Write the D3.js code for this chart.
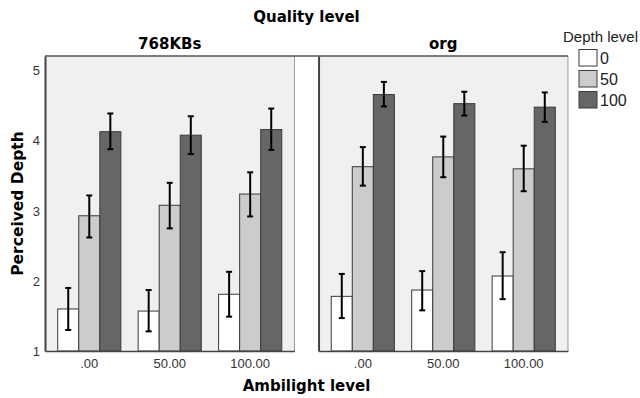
<!DOCTYPE html>
<html>
<head>
<meta charset="utf-8">
<script src="https://cdn.jsdelivr.net/npm/d3@7"></script>
<style>
  body { margin: 0; background: #fff; }
  svg { display: block; }
</style>
</head>
<body>
<div id="chart"></div>
<script>
const w = 640
const h = 398

// Panels, groups and subgroups
const quality = ["768KBs", "org"]
const ambilight = [".00", "50.00", "100.00"]
const depthLevels = ["0", "50", "100"]
const depthColors = ["#ffffff", "#cccccc", "#666666"]
const yTicks = [1, 2, 3, 4, 5]

// Mean perceived depth, one row per ambilight level, one column per depth level
const means768 = [[1.60, 2.93, 4.13], [1.57, 3.08, 4.08], [1.81, 3.24, 4.16]]
const lower768 = [[1.30, 2.62, 3.88], [1.28, 2.75, 3.81], [1.49, 2.92, 3.87]]
const upper768 = [[1.90, 3.22, 4.39], [1.87, 3.40, 4.35], [2.13, 3.55, 4.46]]

const meansOrg = [[1.78, 3.63, 4.66], [1.87, 3.77, 4.53], [2.07, 3.60, 4.48]]
const lowerOrg = [[1.47, 3.36, 4.49], [1.58, 3.48, 4.36], [1.74, 3.28, 4.27]]
const upperOrg = [[2.10, 3.91, 4.84], [2.14, 4.06, 4.70], [2.41, 3.93, 4.69]]

const panelData = [
  { name: quality[0], means: means768, lower: lower768, upper: upper768 },
  { name: quality[1], means: meansOrg, lower: lowerOrg, upper: upperOrg }
]

const sansFont = "'Liberation Sans', Arial, sans-serif"
const titleFont = "'DejaVu Sans', Verdana, sans-serif"

const svg = d3.select("#chart")
              .append("svg")
                .attr("width", w)
                .attr("height", h)

// Scales
const xPanel = d3.scaleBand()
                  .domain(quality)
                  .range([45, 568])
                  .paddingInner(0.088)

const x0 = d3.scaleBand()
              .domain(ambilight)
              .range([0, xPanel.bandwidth()])
              .paddingInner(0.215)
              .paddingOuter(0.158)

const x1 = d3.scaleBand()
              .domain(depthLevels)
              .range([0, x0.bandwidth()])

const y = d3.scaleLinear()
            .domain([1, 5.21])
            .range([351, 56])

const color = d3.scaleOrdinal().domain(depthLevels).range(depthColors)

// --- Panels ---
panelData.forEach((p, pi) => {
  const px = xPanel(p.name)
  const bw = xPanel.bandwidth()
  const g = svg.append("g").attr("transform", `translate(${px},0)`)

  g.append("rect")
    .attr("x", 0).attr("y", y.range()[1])
    .attr("width", bw).attr("height", y.range()[0] - y.range()[1])
    .attr("fill", "#f0f0f0")

  // right border
  g.append("line")
    .attr("x1", bw).attr("x2", bw)
    .attr("y1", y.range()[1]).attr("y2", y.range()[0])
    .attr("stroke", "#9a9a9a").attr("stroke-width", 1)

  // bars + error bars
  ambilight.forEach((a, ai) => {
    const gg = g.append("g").attr("transform", `translate(${x0(a)},0)`)
    depthLevels.forEach((d, di) => {
      const v = p.means[ai][di]
      gg.append("rect")
        .attr("x", x1(d))
        .attr("y", y(v))
        .attr("width", x1.bandwidth())
        .attr("height", y(1) - y(v))
        .attr("fill", color(d))
        .attr("stroke", "#3a3a3a")
        .attr("stroke-width", 1)

      const cx = x1(d) + x1.bandwidth() / 2
      const lo = y(p.lower[ai][di]), hi = y(p.upper[ai][di])
      gg.append("line")
        .attr("x1", cx).attr("x2", cx).attr("y1", lo).attr("y2", hi)
        .attr("stroke", "#000").attr("stroke-width", 2)
      ;[lo, hi].forEach(yy => {
        gg.append("line")
          .attr("x1", cx - 3).attr("x2", cx + 3).attr("y1", yy).attr("y2", yy)
          .attr("stroke", "#000").attr("stroke-width", 2)
      })
    })
  })

  // left axis
  const yAxis = d3.axisLeft(y).tickValues(yTicks).tickSize(0).tickPadding(5).tickFormat(d3.format("d"))
  const ya = g.append("g").call(yAxis)
  ya.select(".domain").attr("stroke", "#444").attr("stroke-width", 2)
  if (pi > 0) ya.selectAll(".tick").remove()

  // bottom axis
  const xAxis = d3.axisBottom(x0).tickSize(0).tickPadding(8)
  const xa = g.append("g").attr("transform", `translate(0,${y(1)})`).call(xAxis)
  xa.select(".domain").attr("stroke", "#444").attr("stroke-width", 1.5)

  ;[ya, xa].forEach(ax => ax.attr("font-family", sansFont).attr("font-size", 13)
    .selectAll(".tick text").attr("fill", "#333"))

  // panel title
  svg.append("text")
    .attr("x", px + bw / 2).attr("y", 49)
    .attr("text-anchor", "middle")
    .style("font-family", titleFont)
    .style("font-weight", "bold").style("font-size", "15px")
    .text(p.name)
})

// top border across both panels
svg.append("line")
  .attr("x1", xPanel.range()[0]).attr("x2", xPanel.range()[1])
  .attr("y1", y.range()[1]).attr("y2", y.range()[1])
  .attr("stroke", "#555").attr("stroke-width", 1.5)

// --- Titles ---
const midX = (xPanel.range()[0] + xPanel.range()[1]) / 2

svg.append("text")
  .attr("x", midX).attr("y", 22)
  .attr("text-anchor", "middle")
  .style("font-family", titleFont).style("font-weight", "bold").style("font-size", "15px")
  .text("Quality level")

svg.append("text")
  .attr("x", midX).attr("y", 391)
  .attr("text-anchor", "middle")
  .style("font-family", titleFont).style("font-weight", "bold").style("font-size", "15px")
  .text("Ambilight level")

svg.append("text")
  .attr("transform", `translate(23,${(y.range()[0] + y.range()[1]) / 2}) rotate(-90)`)
  .attr("text-anchor", "middle")
  .style("font-family", titleFont).style("font-weight", "bold").style("font-size", "15.5px")
  .text("Perceived Depth")

// --- Legend ---
const legend = svg.append("g").attr("transform", "translate(563,0)")
legend.append("text")
  .attr("x", 0).attr("y", 42)
  .style("font-family", sansFont).style("font-size", "15px")
  .style("fill", "#222")
  .text("Depth level")

depthLevels.forEach((d, i) => {
  const ly = 49.5 + i * 21
  legend.append("rect")
    .attr("x", 16).attr("y", ly)
    .attr("width", 18).attr("height", 16.5)
    .attr("fill", color(d))
    .attr("stroke", "#3a3a3a").attr("stroke-width", 1)
  legend.append("text")
    .attr("x", 37).attr("y", ly + 14)
    .style("font-family", sansFont).style("font-size", "16px")
    .style("fill", "#222")
    .text(d)
})
</script>
</body>
</html>
